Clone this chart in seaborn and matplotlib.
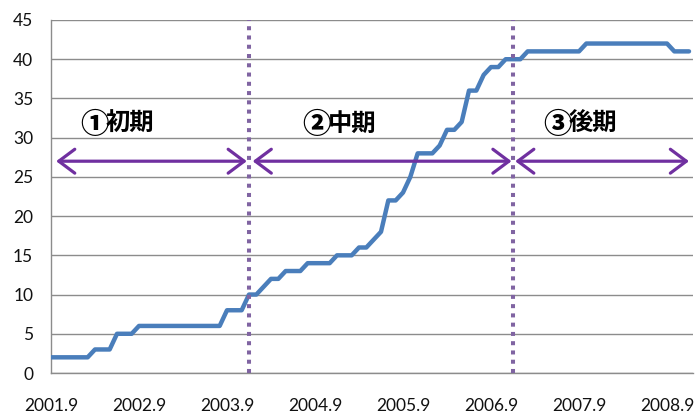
import matplotlib
matplotlib.use("Agg")
import matplotlib.pyplot as plt
import seaborn as sns
import pandas as pd
from matplotlib.patches import FancyArrowPatch, ArrowStyle

# Monthly cumulative count, September 2001 through December 2008
counts = [2, 2, 2, 2, 2, 2,
          3, 3, 3,
          5, 5, 5,
          6, 6, 6, 6, 6, 6, 6, 6, 6, 6, 6, 6,
          8, 8, 8,
          10, 10, 11, 12, 12,
          13, 13, 13,
          14, 14, 14, 14,
          15, 15, 15,
          16, 16, 17, 18,
          22, 22, 23, 25,
          28, 28, 28, 29,
          31, 31, 32,
          36, 36, 38, 39, 39,
          40, 40, 40,
          41, 41, 41, 41, 41, 41, 41, 41,
          42, 42, 42, 42, 42, 42, 42, 42, 42, 42, 42, 42,
          41, 41, 41]

# Year labels placed every 12 months on the quarterly tick grid
year_labels = ["2001.9", "2002.9", "2003.9", "2004.9",
               "2005.9", "2006.9", "2007.9", "2008.9"]

# Phase boundaries (month index) and phase annotations
phase_boundaries = [27, 63]
phase_names = ["①初期", "②中期", "③後期"]
phase_spans = [(0.7, 26.7), (27.5, 62.8), (63.3, 87.0)]
phase_label_x = [7.5, 37.8, 70.6]
arrow_level = 27
label_level = 31.7

df = pd.DataFrame({"month": range(len(counts)), "count": counts})

sns.set_style("white")
plt.rcParams["font.family"] = ["Lato", "Noto Sans CJK JP", "DejaVu Sans"]

W, H = 696, 417
fig = plt.figure(figsize=(W / 100, H / 100), dpi=100)
ax = fig.add_axes([51 / W, 44 / H, (693.4 - 51) / W, 353 / H])

grid_col = "#8c8c8c"

sns.lineplot(data=df, x="month", y="count", ax=ax, color="#4A7EBB",
             linewidth=3.2, solid_joinstyle="round", solid_capstyle="round",
             zorder=3)

ax.set_xlim(0, 87.6)
ax.set_ylim(0, 45)
ax.set_yticks(range(0, 46, 5))
ax.yaxis.grid(True, color=grid_col, linewidth=1.0, zorder=0)
ax.xaxis.grid(False)

xt = list(range(0, 88, 3))
ax.set_xticks(xt)
ax.set_xticklabels([year_labels[m // 12] if m % 12 == 0 else "" for m in xt])
ax.set_xlabel("")
ax.set_ylabel("")

ax.tick_params(axis="both", direction="out", length=4.3, width=1.0,
               color=grid_col, labelsize=12.5, labelcolor="#111111")
ax.tick_params(axis="x", pad=14)
ax.tick_params(axis="y", pad=8.5)

for side in ["top", "right"]:
    ax.spines[side].set_visible(False)
for side in ["left", "bottom"]:
    ax.spines[side].set_color(grid_col)
    ax.spines[side].set_linewidth(1.0)

# Dotted phase dividers
for b in phase_boundaries:
    ax.axvline(b, color="#8064A2", linewidth=2.9, linestyle=(0, (1, 1.3)),
               dash_capstyle="butt", zorder=4)

# Double-headed arrows spanning each phase
style = ArrowStyle("<->", head_length=11.5, head_width=8.6)
for x0, x1 in phase_spans:
    arr = FancyArrowPatch((x0, arrow_level), (x1, arrow_level),
                          arrowstyle=style, mutation_scale=1,
                          color="#7030A0", linewidth=2.3,
                          shrinkA=0, shrinkB=0, zorder=5)
    ax.add_patch(arr)

# Phase titles: circled numeral followed by the kanji label
for name, lx in zip(phase_names, phase_label_x):
    ax.text(lx + 0.35, label_level, name[0], ha="right", va="center",
            fontsize=20.5, fontweight="heavy", color="black",
            family=["Noto Sans CJK JP", "DejaVu Sans"], zorder=6)
    ax.text(lx, label_level, name[1:], ha="left", va="center",
            fontsize=17.5, fontweight="bold", color="black",
            family=["Noto Sans CJK JP", "DejaVu Sans"], zorder=6)

fig.savefig("out.png", dpi=100)
